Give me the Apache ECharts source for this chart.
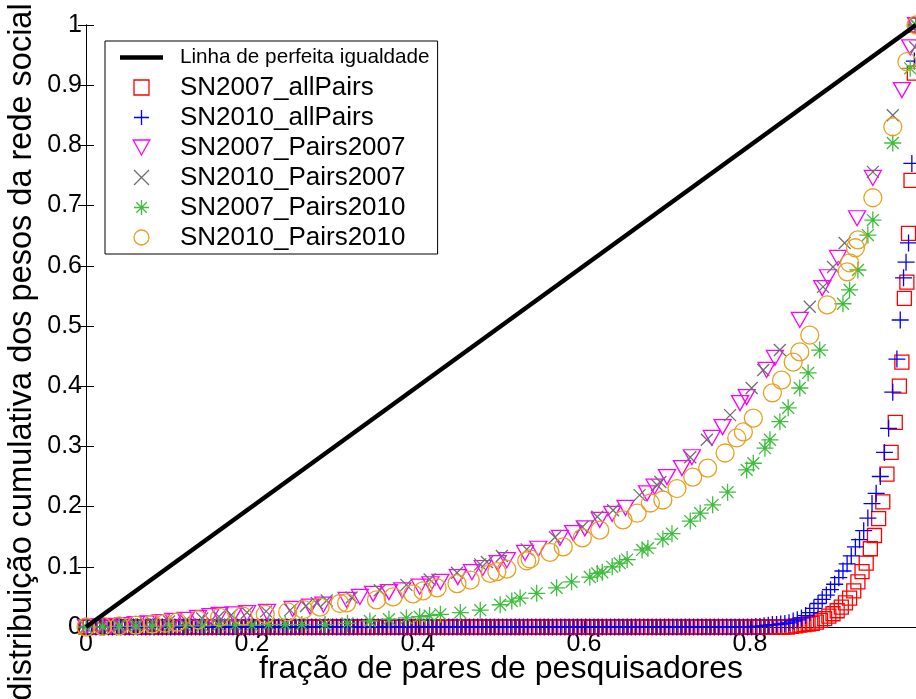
<!DOCTYPE html>
<html><head><meta charset="utf-8">
<script src="https://cdn.jsdelivr.net/npm/echarts@6/dist/echarts.min.js"></script>
<style>html,body{margin:0;padding:0;background:#fff}#c{width:916px;height:699px}</style>
</head><body><div id="c"></div>
<script>
const seriesNames = ['Linha de perfeita igualdade','SN2007_allPairs','SN2010_allPairs','SN2007_Pairs2007','SN2010_Pairs2007','SN2007_Pairs2010','SN2010_Pairs2010'];
const xTickLabels = ['0','0.2','0.4','0.6','0.8','1'];
const yTickLabels = ['0','0.1','0.2','0.3','0.4','0.5','0.6','0.7','0.8','0.9','1'];
const xAxisTitle = 'fração de pares de pesquisadores';
const yAxisTitle = 'distribuição cumulativa dos pesos da rede social';

const equalityX = [0, 1];
const equalityY = [0, 1];

const redX = [
0,0.005,0.01,0.015,0.02,0.025,0.03,0.035,0.04,0.045,0.05,0.055,0.06,0.065,0.07,0.075,0.08,0.085,0.09,0.095,
0.1,0.105,0.11,0.115,0.12,0.125,0.13,0.135,0.14,0.145,0.15,0.155,0.16,0.165,0.17,0.175,0.18,0.185,0.19,0.195,
0.2,0.205,0.21,0.215,0.22,0.225,0.23,0.235,0.24,0.245,0.25,0.255,0.26,0.265,0.27,0.275,0.28,0.285,0.29,0.295,
0.3,0.305,0.31,0.315,0.32,0.325,0.33,0.335,0.34,0.345,0.35,0.355,0.36,0.365,0.37,0.375,0.38,0.385,0.39,0.395,
0.4,0.405,0.41,0.415,0.42,0.425,0.43,0.435,0.44,0.445,0.45,0.455,0.46,0.465,0.47,0.475,0.48,0.485,0.49,0.495,
0.5,0.505,0.51,0.515,0.52,0.525,0.53,0.535,0.54,0.545,0.55,0.555,0.56,0.565,0.57,0.575,0.58,0.585,0.59,0.595,
0.6,0.605,0.61,0.615,0.62,0.625,0.63,0.635,0.64,0.645,0.65,0.655,0.66,0.665,0.67,0.675,0.68,0.685,0.69,0.695,
0.7,0.705,0.71,0.715,0.72,0.725,0.73,0.735,0.74,0.745,0.75,0.755,0.76,0.765,0.77,0.775,0.78,0.785,0.79,0.795,
0.8,0.805,0.81,0.815,0.82,0.825,0.83,0.835,0.84,0.845,0.85,0.855,0.86,0.865,0.87,0.875,0.88,0.885,0.89,0.895,
0.9,0.905,0.91,0.915,0.92,0.925,0.93,0.935,0.94,0.945,0.95,0.955,0.96,0.965,0.97,0.975,0.98,
0.983,0.986,0.989,0.991,0.994,0.998,1];
const redY = [
0,0,0,0,0,0,0,0,0,0,0,0,0,0,0,0,0,0,0,0,
0,0,0,0,0,0,0,0,0,0,0,0,0,0,0,0,0,0,0,0,
0,0,0,0,0,0,0,0,0,0,0,0,0,0,0,0,0,0,0,0,
0,0,0,0,0,0,0,0,0,0,0,0,0,0,0,0,0,0,0,0,
0,0,0,0,0,0,0,0,0,0,0,0,0,0,0,0,0,0,0,0,
0,0,0,0,0,0,0,0,0,0,0,0,0,0,0,0,0,0,0,0,
0,0,0,0,0,0,0,0,0,0,0,0,0,0,0,0,0,0,0,0,
0,0,0,0,0,0,0,0,0,0,0,0,0,0,0,0,0,0,0,0,
0,0,0,0,0,0,0,0,0,0,0.001,0.002,0.003,0.004,0.005,0.006,0.008,0.011,0.014,0.018,
0.022,0.027,0.033,0.04,0.048,0.06,0.075,0.092,0.106,0.13,0.152,0.18,0.208,0.254,0.29,0.34,0.4,
0.44,0.546,0.573,0.654,0.742,0.92,1];

const blueX = [
0.002,0.007,0.012,0.017,0.022,0.027,0.032,0.037,0.042,0.047,0.052,0.057,0.062,0.067,0.072,0.077,0.082,0.087,0.092,0.097,
0.102,0.107,0.112,0.117,0.122,0.127,0.132,0.137,0.142,0.147,0.152,0.157,0.162,0.167,0.172,0.177,0.182,0.187,0.192,0.197,
0.202,0.207,0.212,0.217,0.222,0.227,0.232,0.237,0.242,0.247,0.252,0.257,0.262,0.267,0.272,0.277,0.282,0.287,0.292,0.297,
0.302,0.307,0.312,0.317,0.322,0.327,0.332,0.337,0.342,0.347,0.352,0.357,0.362,0.367,0.372,0.377,0.382,0.387,0.392,0.397,
0.402,0.407,0.412,0.417,0.422,0.427,0.432,0.437,0.442,0.447,0.452,0.457,0.462,0.467,0.472,0.477,0.482,0.487,0.492,0.497,
0.502,0.507,0.512,0.517,0.522,0.527,0.532,0.537,0.542,0.547,0.552,0.557,0.562,0.567,0.572,0.577,0.582,0.587,0.592,0.597,
0.602,0.607,0.612,0.617,0.622,0.627,0.632,0.637,0.642,0.647,0.652,0.657,0.662,0.667,0.672,0.677,0.682,0.687,0.692,0.697,
0.702,0.707,0.712,0.717,0.722,0.727,0.732,0.737,0.742,0.747,0.752,0.757,0.762,0.767,0.772,0.777,0.782,0.787,0.792,0.797,
0.802,0.807,0.812,0.817,0.822,0.827,0.832,0.837,0.842,0.847,0.852,0.857,0.862,0.867,0.872,0.877,0.882,0.887,0.892,0.897,
0.902,0.907,0.912,0.917,0.922,0.927,0.932,0.937,0.942,0.947,0.952,0.957,0.962,0.967,0.972,0.977,
0.981,0.985,0.988,0.991,0.995,0.998,1];
const blueY = [
0,0,0,0,0,0,0,0,0,0,0,0,0,0,0,0,0,0,0,0,
0,0,0,0,0,0,0,0,0,0,0,0,0,0,0,0,0,0,0,0,
0,0,0,0,0,0,0,0,0,0,0,0,0,0,0,0,0,0,0,0,
0,0,0,0,0,0,0,0,0,0,0,0,0,0,0,0,0,0,0,0,
0,0,0,0,0,0,0,0,0,0,0,0,0,0,0,0,0,0,0,0,
0,0,0,0,0,0,0,0,0,0,0,0,0,0,0,0,0,0,0,0,
0,0,0,0,0,0,0,0,0,0,0,0,0,0,0,0,0,0,0,0,
0,0,0,0,0,0,0,0,0,0,0,0,0,0,0,0,0,0,0,0,
0,0.001,0.001,0.002,0.003,0.004,0.004,0.005,0.006,0.007,0.01,0.012,0.015,0.019,0.024,0.031,0.039,0.046,0.053,0.062,
0.071,0.082,0.093,0.105,0.118,0.133,0.145,0.16,0.181,0.205,0.222,0.25,0.29,0.33,0.39,0.445,
0.51,0.58,0.606,0.638,0.77,0.94,1];

const magentaX = [0,0.015,0.03,0.045,0.06,0.075,0.09,0.105,0.12,0.135,0.15,0.161,0.178,0.194,0.218,0.249,0.27,0.286,0.314,0.33,0.346,0.365,0.381,0.402,0.415,0.427,0.448,0.465,0.478,0.496,0.507,0.529,0.545,0.571,0.587,0.601,0.619,0.634,0.65,0.676,0.685,0.7,0.718,0.73,0.754,0.767,0.788,0.796,0.82,0.83,0.86,0.887,0.894,0.906,0.929,0.948,0.983,0.993,1];
const magentaY = [0,0.001,0.002,0.003,0.005,0.006,0.008,0.01,0.012,0.015,0.018,0.02,0.021,0.023,0.025,0.03,0.034,0.037,0.045,0.05,0.055,0.058,0.061,0.067,0.071,0.075,0.083,0.091,0.098,0.106,0.111,0.123,0.13,0.148,0.156,0.164,0.178,0.188,0.198,0.222,0.233,0.249,0.264,0.282,0.314,0.332,0.372,0.382,0.427,0.447,0.51,0.563,0.581,0.613,0.679,0.746,0.892,0.963,1];

const grayX = [0,0.02,0.04,0.06,0.08,0.1,0.12,0.14,0.16,0.175,0.194,0.217,0.246,0.265,0.278,0.29,0.32,0.354,0.386,0.414,0.447,0.475,0.483,0.501,0.531,0.565,0.598,0.616,0.635,0.667,0.688,0.692,0.728,0.748,0.776,0.802,0.816,0.836,0.872,0.888,0.9,0.914,0.948,0.972,0.999,1];
const grayY = [0,0.001,0.003,0.005,0.007,0.009,0.011,0.014,0.017,0.02,0.024,0.026,0.028,0.035,0.04,0.044,0.049,0.061,0.07,0.079,0.09,0.104,0.108,0.118,0.129,0.149,0.166,0.183,0.194,0.219,0.236,0.241,0.282,0.311,0.352,0.397,0.427,0.46,0.532,0.565,0.598,0.638,0.756,0.85,0.963,1];

const greenX = [0,0.02,0.04,0.06,0.08,0.1,0.12,0.14,0.16,0.18,0.2,0.22,0.24,0.26,0.288,0.315,0.342,0.365,0.386,0.402,0.414,0.427,0.451,0.475,0.499,0.513,0.523,0.543,0.567,0.585,0.607,0.616,0.622,0.634,0.643,0.652,0.67,0.677,0.695,0.706,0.728,0.74,0.755,0.773,0.796,0.804,0.818,0.824,0.836,0.846,0.86,0.87,0.884,0.912,0.92,0.93,0.942,0.948,0.972,0.993,1];
const greenY = [0,0,0.001,0.001,0.001,0.002,0.002,0.002,0.003,0.003,0.003,0.004,0.004,0.004,0.004,0.006,0.01,0.013,0.015,0.017,0.019,0.021,0.024,0.028,0.037,0.043,0.048,0.056,0.065,0.075,0.083,0.089,0.091,0.1,0.106,0.112,0.128,0.131,0.146,0.155,0.176,0.189,0.203,0.224,0.261,0.272,0.297,0.311,0.341,0.364,0.397,0.422,0.46,0.537,0.56,0.593,0.651,0.676,0.804,0.928,1];

const orangeX = [0,0.02,0.04,0.06,0.08,0.095,0.11,0.135,0.161,0.189,0.216,0.243,0.262,0.282,0.306,0.314,0.35,0.37,0.394,0.406,0.423,0.447,0.463,0.487,0.495,0.507,0.531,0.535,0.559,0.575,0.598,0.619,0.647,0.664,0.68,0.695,0.712,0.731,0.749,0.77,0.784,0.792,0.804,0.827,0.838,0.852,0.86,0.872,0.893,0.917,0.92,0.927,0.93,0.948,0.972,0.989,1];
const orangeY = [0,0.001,0.002,0.003,0.005,0.006,0.008,0.012,0.016,0.018,0.021,0.025,0.029,0.033,0.039,0.04,0.045,0.05,0.055,0.06,0.065,0.072,0.078,0.089,0.092,0.096,0.11,0.113,0.124,0.133,0.148,0.161,0.178,0.189,0.206,0.211,0.23,0.249,0.264,0.289,0.314,0.324,0.347,0.389,0.41,0.44,0.457,0.485,0.535,0.59,0.605,0.63,0.643,0.713,0.831,0.939,1];

function pairs(xs, ys) {
  if (xs.length !== ys.length) console.error('length mismatch', xs.length, ys.length);
  return xs.map((x, i) => [x, ys[i]]);
}

const FONT = '"Liberation Sans", Arial, sans-serif';

function scatter(name, xs, ys, symbol, size, stroke, fill) {
  return {
    name, type: 'scatter', data: pairs(xs, ys), symbol, symbolSize: size, clip: false,
    itemStyle: { color: fill || 'transparent', borderColor: stroke, borderWidth: 1.3, opacity: 1 },
    emphasis: { disabled: true }, silent: true
  };
}

const chart = echarts.init(document.getElementById('c'), null, { renderer: 'canvas' });

const axisCommon = {
  type: 'value', min: 0, max: 1,
  axisLine: { show: true, lineStyle: { color: '#000', width: 1 } },
  axisTick: { show: true, inside: true, length: 8, lineStyle: { color: '#000' } },
  splitLine: { show: false }
};

chart.setOption({
  animation: false,
  backgroundColor: '#fff',
  grid: { left: 86, top: 25, width: 831, height: 602, containLabel: false },
  xAxis: [
    Object.assign({}, axisCommon, {
      position: 'bottom', interval: 0.2,
      axisLabel: { margin: 5, fontSize: 25, color: '#000', fontFamily: FONT, showMaxLabel: false,
        formatter: v => xTickLabels[Math.round(v / 0.2)] },
      name: xAxisTitle, nameLocation: 'middle', nameGap: 26, nameMoveOverlap: false,
      nameTextStyle: { fontSize: 32, color: '#000', fontFamily: FONT }
    }),
    Object.assign({}, axisCommon, { position: 'top', interval: 0.2, axisLabel: { show: false } })
  ],
  yAxis: [
    Object.assign({}, axisCommon, {
      position: 'left', interval: 0.1,
      axisLabel: { margin: 4, fontSize: 25, color: '#000', fontFamily: FONT,
        formatter: v => yTickLabels[Math.round(v / 0.1)] }
    }),
    Object.assign({}, axisCommon, { position: 'right', interval: 0.1, axisLabel: { show: false } })
  ],
  graphic: [{
    type: 'text', x: 22, y: 352, rotation: Math.PI / 2,
    style: { text: yAxisTitle, fontSize: 32.5, fontFamily: FONT, fill: '#000', align: 'center', verticalAlign: 'middle' }
  }],
  legend: {
    left: 105, top: 41, orient: 'vertical',
    itemWidth: 43, itemHeight: 15, itemGap: 0,
    padding: [1.5, 8, 1.5, 15],
    borderColor: '#000', borderWidth: 1, backgroundColor: '#fff',
    selectedMode: false,
    textStyle: { fontFamily: FONT, fontSize: 26, color: '#000', lineHeight: 30, padding: [0, 0, 0, 12] },
    itemStyle: { borderWidth: 1.3 },
    lineStyle: { width: 4.5 },
    data: [
      { name: seriesNames[0], icon: 'path://M0,0L10,0L10,1L0,1Z', itemStyle: { color: '#000', borderWidth: 0 },
        textStyle: { fontSize: 20.7, lineHeight: 30 } },
      { name: seriesNames[1] }, { name: seriesNames[2] }, { name: seriesNames[3] },
      { name: seriesNames[4] }, { name: seriesNames[5] }, { name: seriesNames[6] }
    ]
  },
  series: [
    { name: seriesNames[0], type: 'line', data: pairs(equalityX, equalityY), symbol: 'none',
      lineStyle: { color: '#000', width: 4.5 }, itemStyle: { color: '#000' }, silent: true, clip: false },
    scatter(seriesNames[1], redX, redY, 'path://M0,0L10,0L10,10L0,10Z', 14, '#FF0000'),
    scatter(seriesNames[2], blueX, blueY, 'path://M0,5L10,5M5,0L5,10', 17, '#0000FF'),
    scatter(seriesNames[3], magentaX, magentaY, 'path://M0,0L10,0L5,9Z', [17, 15], '#FF00FF'),
    scatter(seriesNames[4], grayX, grayY, 'path://M0,0L10,10M10,0L0,10', 12, '#6F6F6F'),
    scatter(seriesNames[5], greenX, greenY, 'path://M0,5L10,5M5,0L5,10M1.5,1.5L8.5,8.5M8.5,1.5L1.5,8.5M4.2,5A0.8,0.8,0,1,0,5.8,5A0.8,0.8,0,1,0,4.2,5Z', 17, '#3DBE3D', '#3DBE3D'),
    scatter(seriesNames[6], orangeX, orangeY, 'circle', 18, '#E8A020')
  ]
});
</script>
</body></html>
